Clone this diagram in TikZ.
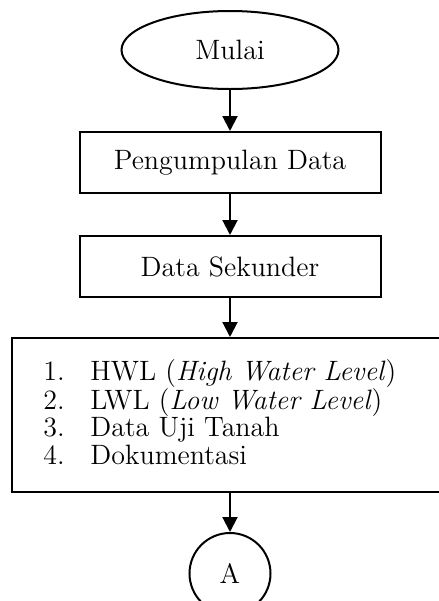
\documentclass[tikz,border=0pt]{standalone}
\usepackage{tikz}
\usetikzlibrary{arrows.meta, positioning, shapes.geometric, calc}

\begin{document}
\begin{tikzpicture}[
    x=0.5pt, y=-0.5pt,
    terminal/.style={draw, ellipse, line width=1pt, minimum width=108.5pt, minimum height=39pt, inner sep=0pt},
    proses/.style={draw, line width=1pt, minimum width=150.5pt, minimum height=30.5pt, inner sep=0pt},
    konektor/.style={draw, circle, line width=1pt, minimum size=40.5pt, inner sep=0pt},
    panah/.style={-{Triangle[width=7.5pt, length=7.5pt]}, line width=1pt},
    font=\fontsize{14}{13.5}\selectfont
]
    \useasboundingbox (0,0) rectangle (439,601);
    \clip (0,0) rectangle (439,601);

    % Mulai
    \node[terminal] (mulai) at (230,50) {Mulai};

    % Pengumpulan data
    \node[proses] (kumpul) at (230,162.5) {Pengumpulan Data};
    \node[proses] (sekunder) at (230,266.5) {Data Sekunder};

    % Daftar data sekunder
    \node[draw, line width=1pt, minimum width=218pt, minimum height=77pt, inner sep=0pt] (daftar) at (230,415) {};
    \node[anchor=base west, inner sep=0pt] (isi) at (43,380) {%
        \begin{tabular}[t]{@{}l@{}l@{}}
            \makebox[23.5pt][l]{1.} & HWL (\textit{High Water Level}) \\
            \makebox[23.5pt][l]{2.} & LWL (\textit{Low Water Level}) \\
            \makebox[23.5pt][l]{3.} & Data Uji Tanah \\
            \makebox[23.5pt][l]{4.} & Dokumentasi
        \end{tabular}};

    % Konektor A
    \node[konektor] (a) at (230,573.5) {A};

    \draw[panah] (mulai) -- (kumpul);
    \draw[panah] (kumpul) -- (sekunder);
    \draw[panah] (sekunder) -- (daftar);
    \draw[panah] (daftar) -- (a);
\end{tikzpicture}
\end{document}
